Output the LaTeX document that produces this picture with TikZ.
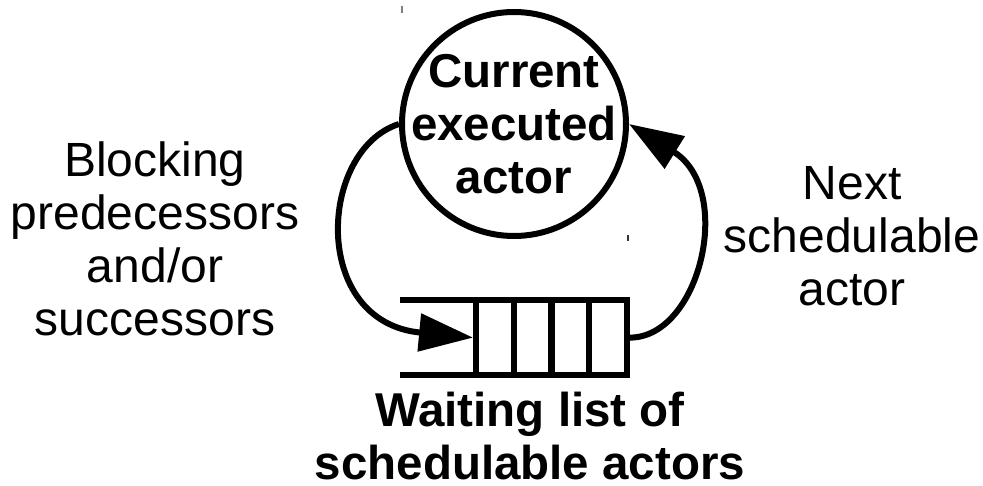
\documentclass[tikz,border=0pt]{standalone}
\usepackage{fontspec}
\setmainfont{Liberation Sans}
\usetikzlibrary{arrows.meta}
\begin{document}
\begin{tikzpicture}[x=1pt,y=-1pt,
  thick line/.style={line width=6pt},
  cell/.style={draw,thick line,rectangle,minimum width=37.75pt,minimum height=75.3pt,inner sep=0pt},
  arr/.style={thick line,-{Triangle[length=54pt,width=37pt]}},
  regtxt/.style={align=center,inner sep=0pt,font=\fontsize{48}{52.7}\selectfont},
  boldtxt/.style={align=center,inner sep=0pt,font=\fontsize{47.5}{53}\selectfont\bfseries},
  tick/.style={line width=1.5pt,draw=gray}
]
\useasboundingbox (0,0) rectangle (983,486);

% current executed actor
\node[circle,draw,thick line,minimum size=224pt,inner sep=0pt,
      label={[boldtxt]center:{Current\\executed\\actor}}] (cur) at (514,124) {};

% waiting list
\node[cell] (q1) at (494.9,337.6) {};
\node[cell] (q2) at (532.6,337.6) {};
\node[cell] (q3) at (570.4,337.6) {};
\node[cell] (q4) at (608.1,337.6) {};
\coordinate (qtop) at (400,299.9);
\coordinate (qbot) at (400,375.3);
\draw[thick line] (qtop) -- (qtop -| q1.center);
\draw[thick line] (qbot) -- (qbot -| q1.center);

% arrows
\draw[arr] (cur.west) .. controls +(-81,26) and +(-163,-15.5) .. (q1.west);
\draw[arr] (q4.east) .. controls +(70,0) and +(106,66) .. (cur.east);

% labels
\node[regtxt] (blk) at (155,238.8) {Blocking\\predecessors\\and/or\\successors};
\node[regtxt] (nxt) at (852,236.3) {Next\\schedulable\\actor};
\node[boldtxt] (wl) at (530,436) {Waiting list of\\schedulable actors};

% small marks
\coordinate (m1a) at (402,6);
\coordinate (m1b) at (402,13);
\coordinate (m2a) at (628,235);
\coordinate (m2b) at (628,241);
\draw[tick] (m1a) -- (m1b);
\draw[tick,draw=black!80] (m2a) -- (m2b);
\end{tikzpicture}
\end{document}
